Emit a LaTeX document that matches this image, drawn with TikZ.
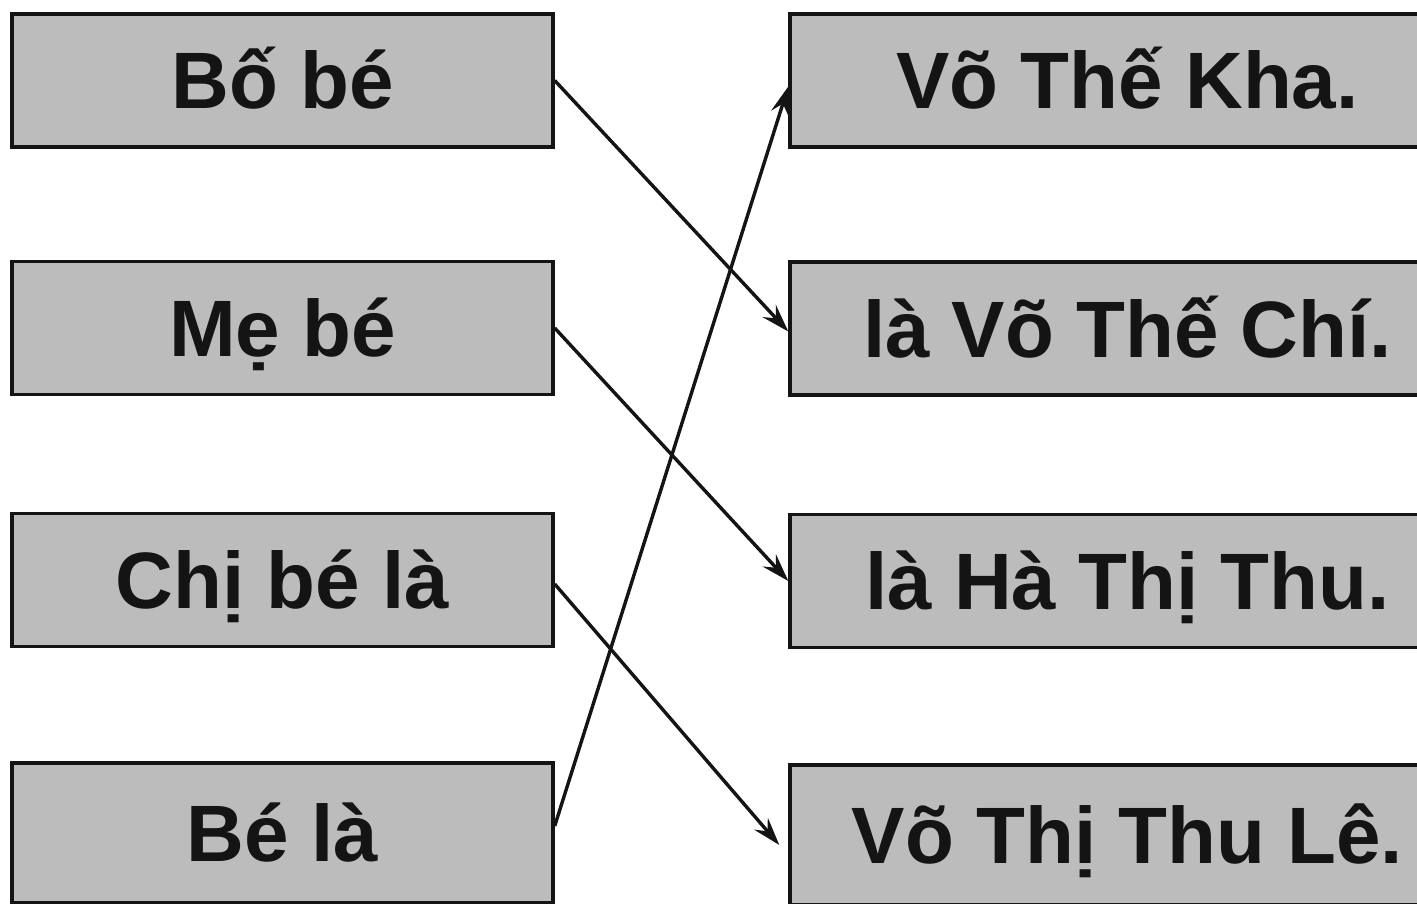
\documentclass[tikz,border=0pt]{standalone}
\usepackage{fontspec}
\setmainfont{Liberation Sans}
\usetikzlibrary{arrows.meta}
\definecolor{boxgray}{RGB}{188,188,188}
\definecolor{ink}{RGB}{20,20,20}
\begin{document}
\begin{tikzpicture}[x=1pt,y=-1pt,
  box/.style={draw=ink,line width=3.4pt,fill=boxgray,minimum height=133pt,
    text height=57pt,text depth=0pt,inner sep=0pt,text=ink,
    font=\fontsize{80}{90}\selectfont\bfseries},
  lbox/.style={box,minimum width=541pt},
  rbox/.style={box,minimum width=675pt},
  link/.style={draw=ink,line width=3.4pt,-{Stealth[length=28pt,width=18pt,inset=10pt]}}]
\useasboundingbox (0,0) rectangle (1417,904);
\fill[white] (0,0) rectangle (1417,904);
\clip (0,0) rectangle (1417,904);
% left column
\node[lbox] (b1) at (282.5,80.5) {Bố bé};
\node[lbox] (b2) at (282.5,328) {Mẹ bé};
\node[lbox] (b3) at (282.5,580) {Chị bé là};
\node[lbox,minimum height=140pt] (b4) at (282.5,833) {Bé là};
% right column
\node[rbox] (r1) at (1127.5,80.5) {Võ Thế Kha.};
\node[rbox] (r2) at (1127.5,328.5) {là Võ Thế Chí.};
\node[rbox] (r3) at (1127.5,581) {là Hà Thị Thu.};
\node[rbox,minimum height=140pt] (r4) at (1127.5,835) {Võ Thị Thu Lê.};
% connectors
\draw[link] (b1.east) -- ([yshift=-3pt]r2.west);
\draw[link] (b2.east) -- (r3.west);
\draw[link] ([yshift=-4pt]b3.east) -- ([yshift=-10pt,xshift=-9pt]r4.west);
\draw[link] ([yshift=7pt]b4.east) -- ([yshift=-6pt]r1.west);
\end{tikzpicture}
\end{document}
